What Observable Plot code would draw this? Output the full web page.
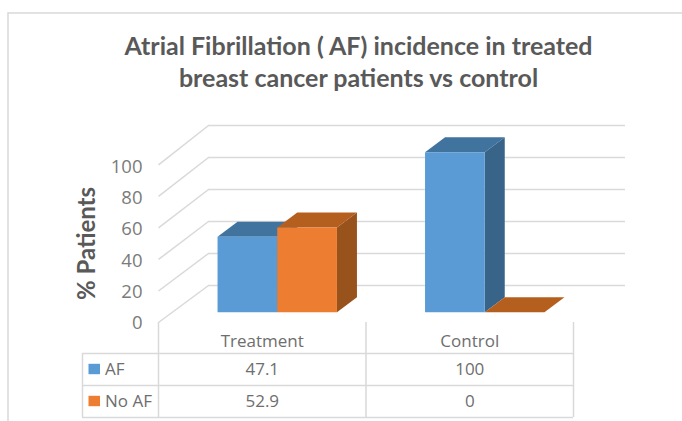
<!DOCTYPE html>
<html>
<head>
<meta charset="utf-8">
<script src="https://cdn.jsdelivr.net/npm/d3@7"></script>
<script src="https://cdn.jsdelivr.net/npm/@observablehq/plot@0.6"></script>
<style>html,body{margin:0;padding:0;background:#fff;overflow:hidden}svg{display:block}</style>
</head>
<body>
<div id="chart"></div>
<script>
const categories = ["Treatment", "Control"];
const seriesNames = ["AF", "No AF"];
const afValues = [47.1, 100];
const noAfValues = [52.9, 0];
const yTicks = [0, 20, 40, 60, 80, 100];
const titleLines = ["Atrial Fibrillation ( AF) incidence in treated", "breast cancer patients vs control"];
const yLabel = "% Patients";

const W = 682, H = 421;
// Layout of the chart in page pixels, expressed through the scales
const catPx = 207.5, catLeft = 158, basePx = 311.7, unitPx = 1.6;
const X = px => (px - catLeft) / catPx;          // page x -> category units
const Y = px => (basePx - px) / unitPx;          // page y -> value units
const dX = px => px / catPx, dY = px => -px / unitPx;

const palette = {
  AF: {front: "#5b9bd5", top: "#41739f", side: "#38648a"},
  "No AF": {front: "#ed7d31", top: "#b55f1f", side: "#98521c"}
};
const grid = "#d9d9d9", tickInk = "#7b7b7b", titleInk = "#595959", tableInk = "#6e6e6e";

// Bars: prism faces from values
const barW = dX(59.7), barShift = dX(15), depthX = dX(20), depthY = dY(-15);
const faces = [];
categories.forEach((c, i) => {
  seriesNames.forEach((s, j) => {
    const v = (j === 0 ? afValues : noAfValues)[i];
    const x0 = i + 0.5 + barShift + (j - 1) * barW, x1 = x0 + barW;
    const add = (name, pts) => pts.forEach(([x, y]) => faces.push({face: `${c}-${s}-${name}`, x, y, fill: palette[s][name]}));
    add("top", [[x0, v], [x1, v], [x1 + depthX, v + depthY], [x0 + depthX, v + depthY]]);
    if (v > 0) {
      add("side", [[x1, 0], [x1, v], [x1 + depthX, v + depthY], [x1 + depthX, depthY]]);
      add("front", [[x0, 0], [x1, 0], [x1, v], [x0, v]]);
    }
  });
});

// Walls: tick level -> front corner, back corner, right end
const frontY = t => Y(322) + t * 0.985, backY = t => Y(285) + t;
const tickLabelY = t => Y(322.5) + t * 0.975;
const wallLeft = yTicks.map(t => ({x1: X(158), y1: frontY(t), x2: X(208), y2: backY(t)}));
const wallBack = yTicks.map(t => ({x1: X(208), y: backY(t), x2: X(625)}));

// Table
const colEdges = [0, 1, 2];
const rowEdges = [Y(353), Y(385), Y(417)];
const rowMid = seriesNames.map((s, j) => (rowEdges[j] + rowEdges[j + 1]) / 2);
const tableRows = seriesNames.flatMap((s, j) => categories.map((c, i) => ({
  x: i + 0.5, y: rowMid[j], text: String((j === 0 ? afValues : noAfValues)[i])
})));
const swatches = seriesNames.map((s, j) => ({s, x1: X(88.5), x2: X(100), y1: rowMid[j] + dY(-5.2), y2: rowMid[j] - dY(-5.2), fill: palette[s].front}));
const rowLabels = seriesNames.map((s, j) => ({s, x: X(104.5), y: rowMid[j]}));

const plot = Plot.plot({
  width: W, height: H, margin: 0,
  style: {background: "#fff", fontFamily: "'Open Sans', sans-serif"},
  x: {axis: null, domain: [X(0), X(W)], range: [0, W]},
  y: {axis: null, domain: [Y(H), Y(0)], range: [H, 0]},
  color: {type: "identity"},
  marks: [
    // frame
    Plot.ruleY([Y(12.5)], {x1: X(7.5), x2: X(W), stroke: grid, strokeWidth: 1.5}),
    Plot.ruleX([X(7.5)], {y1: Y(12.5), y2: Y(H), stroke: grid, strokeWidth: 1.5}),
    // walls
    Plot.link(wallLeft, {x1: "x1", y1: "y1", x2: "x2", y2: "y2", stroke: grid, strokeWidth: 1.5}),
    Plot.ruleY(wallBack, {x1: "x1", x2: "x2", y: "y", stroke: grid, strokeWidth: 1.5}),
    // bars
    Plot.line(faces, {x: "x", y: "y", z: "face", fill: "fill", stroke: null, curve: "linear-closed"}),
    // y ticks
    Plot.text(yTicks, {x: X(142), y: tickLabelY, text: d => String(d), textAnchor: "end", fontSize: 18.5, fill: tickInk}),
    Plot.text([yLabel], {x: X(87), y: Y(243), text: d => d, rotate: -90, fontSize: 24, fontWeight: 700, fill: titleInk, fontFamily: "Lato"}),
    // title
    Plot.text(titleLines, {x: X(358), y: (d, i) => Y(46 + 32 * i), text: d => d, fontSize: 25, fontWeight: 700, fill: titleInk, fontFamily: "Lato"}),
    // table grid
    Plot.ruleY(rowEdges, {x1: X(82), x2: 2, stroke: grid, strokeWidth: 1.5}),
    Plot.ruleX(colEdges, {y1: Y(322), y2: Y(417), stroke: grid, strokeWidth: 1.5}),
    Plot.ruleX([X(82)], {y1: rowEdges[0], y2: rowEdges[2], stroke: grid, strokeWidth: 1.5}),
    // table text
    Plot.text(categories, {x: (d, i) => i + 0.5, y: Y(341), text: d => d, fontSize: 17, fill: tableInk}),
    Plot.text(tableRows, {x: "x", y: "y", text: "text", fontSize: 17, fill: tableInk}),
    Plot.rect(swatches, {x1: "x1", x2: "x2", y1: "y1", y2: "y2", fill: "fill"}),
    Plot.text(rowLabels, {x: "x", y: "y", text: "s", textAnchor: "start", fontSize: 17, fill: tableInk})
  ]
});
document.getElementById("chart").appendChild(plot);
</script>
</body>
</html>
